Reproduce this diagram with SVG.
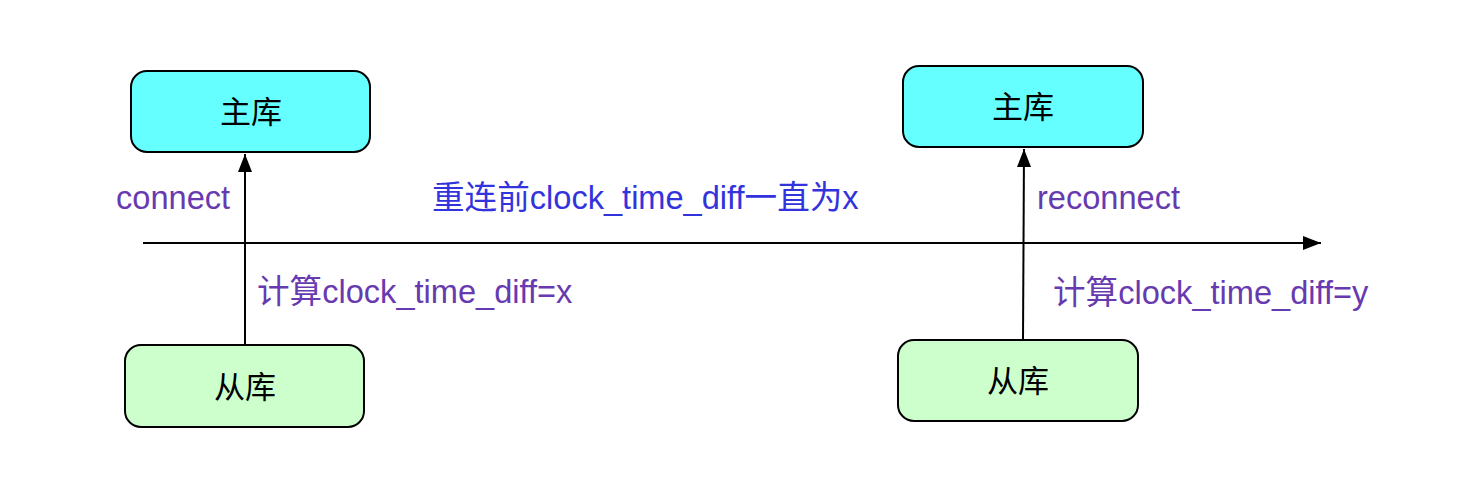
<svg xmlns="http://www.w3.org/2000/svg" width="1464" height="504" viewBox="0 0 1464 504">
<style>
.node{stroke:#000;stroke-width:2}
.master{fill:#66FFFF}
.slave{fill:#CCFFCC}
.nt{font-family:"Liberation Sans","Noto Sans CJK SC",sans-serif;font-size:31px;fill:#000;text-anchor:middle}
.lbl{font-family:"Liberation Sans","Noto Sans CJK SC",sans-serif;font-size:32.6px}
.purple{fill:#673AB0}
.blue{fill:#3333DD}
.conn{stroke:#000;stroke-width:2;fill:none}
</style>
<defs>
<marker id="ah" markerUnits="userSpaceOnUse" markerWidth="18" markerHeight="14" refX="18" refY="7" orient="auto" viewBox="0 0 18 14">
<path d="M0,0 L18,7 L0,14 z" fill="#000"/>
</marker>
</defs>
<rect width="1464" height="504" fill="#fff"/>
<g id="connectors">
<line class="conn" x1="143" y1="243" x2="1321" y2="243" marker-end="url(#ah)"/>
<line class="conn" x1="245" y1="345" x2="245" y2="154" marker-end="url(#ah)"/>
<path class="conn" d="M1023,340 C1023.5,290 1024,220 1024,149" marker-end="url(#ah)"/>
</g>
<g id="master-left">
<rect class="node master" x="131" y="71" width="239" height="81" rx="16"/>
<text class="nt" x="251" y="123">主库</text>
</g>
<g id="slave-left">
<rect class="node slave" x="125" y="345" width="239" height="82" rx="16"/>
<text class="nt" x="245" y="398">从库</text>
</g>
<g id="master-right">
<rect class="node master" x="903" y="66" width="240" height="81" rx="16"/>
<text class="nt" x="1023" y="118">主库</text>
</g>
<g id="slave-right">
<rect class="node slave" x="898" y="340" width="240" height="81" rx="16"/>
<text class="nt" x="1018" y="392">从库</text>
</g>
<g id="labels">
<text class="lbl purple" x="116" y="209">connect</text>
<text class="lbl blue" x="432" y="209">重连前clock_time_diff一直为x</text>
<text class="lbl purple" x="257" y="303">计算clock_time_diff=x</text>
<text class="lbl purple" x="1037" y="209">reconnect</text>
<text class="lbl purple" x="1053" y="304">计算clock_time_diff=y</text>
</g>
</svg>
